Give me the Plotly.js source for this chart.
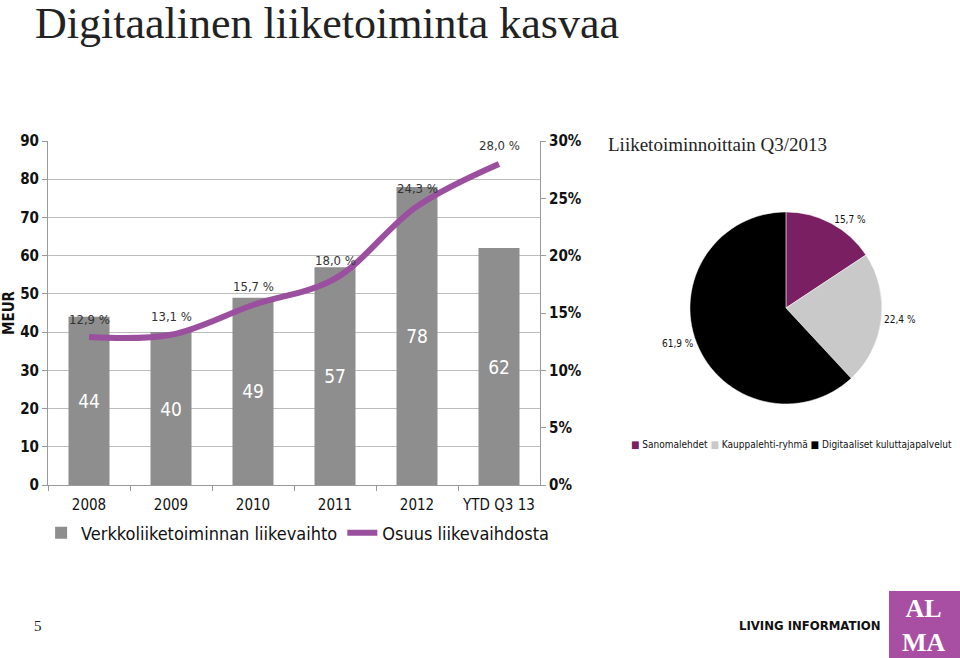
<!DOCTYPE html>
<html>
<head>
<meta charset="utf-8">
<script src="https://cdn.plot.ly/plotly-3.0.1.min.js"></script>
<style>
  html, body { margin: 0; padding: 0; background: #fff; }
  #chart { width: 960px; height: 658px; }
</style>
</head>
<body>
<div id="chart"></div>
<script>
const years = ["2008", "2009", "2010", "2011", "2012", "YTD Q3 13"];
const revenue = [44, 40, 49, 57, 78, 62];
const share = [12.9, 13.1, 15.7, 18.0, 24.3, 28.0];

const segments = ["Sanomalehdet", "Kauppalehti-ryhmä", "Digitaaliset kuluttajapalvelut"];
const segShare = [15.7, 22.4, 61.9];
const segColors = ["#7a1f61", "#c9c9c9", "#000000"];

const sans = "DejaVu Sans Condensed, DejaVu Sans, sans-serif";
const serif = "Liberation Serif, serif";

const bars = {
  x: years, y: revenue, type: "bar", name: "Verkkoliiketoiminnan liikevaihto",
  marker: { color: "#8e8e8e" }, width: 0.5,
  text: revenue.map(String), textposition: "inside", insidetextanchor: "middle",
  textfont: { color: "#fff", size: 19, family: sans },
};

const line = {
  x: years, y: share, yaxis: "y2", mode: "lines", name: "Osuus liikevaihdosta",
  line: { color: "#9b4f9f", width: 6, shape: "spline", smoothing: 1 },
};

const pie = {
  type: "pie", labels: segments, values: segShare, sort: false, direction: "clockwise",
  rotation: 0, showlegend: false,
  marker: { colors: segColors, line: { color: "#fff", width: 0.5 } },
  texttemplate: "%{value:.1f} %", textposition: "outside",
  textfont: { color: "#111", size: 10, family: sans },
  domain: { x: [0.7187, 0.9187], y: [0.386, 0.678] },
};

// share labels above the line points (category axis: x is the category index)
const shareLabels = share.map((v, i) => ({
  x: i, y: v, xref: "x", yref: "y2", yshift: 18, showarrow: false,
  text: v.toFixed(1).replace(".", ",") + " %",
  font: { family: sans, size: 13, color: "#333" },
}));

// pie legend as a single text row
const pieLegend = {
  xref: "paper", yref: "paper", x: 0.655, y: 0.325, xanchor: "left", yanchor: "middle",
  showarrow: false, font: { family: sans, size: 10, color: "#111" },
  text: segments.map((s, i) => `<span style="color:${segColors[i]}">■</span> ${s}`).join(" "),
};

const layout = {
  width: 960, height: 658,
  margin: { l: 0, r: 0, t: 0, b: 0 },
  paper_bgcolor: "#fff", plot_bgcolor: "#fff",
  separators: ", ",
  showlegend: true,
  font: { family: sans, color: "#222" },
  xaxis: {
    type: "category", range: [-0.5, 5.5], tickangle: 0, ticklabelstandoff: 6,
    domain: [0.05, 0.5625], showgrid: false, showline: true, linecolor: "#999",
    ticks: "outside", tickson: "boundaries", ticklen: 5, tickcolor: "#999",
    tickfont: { size: 15, color: "#111" },
  },
  yaxis: {
    domain: [0.2629, 0.7857], range: [0, 90], dtick: 10, showgrid: true, gridcolor: "#bdbdbd",
    showline: true, linecolor: "#999", ticks: "outside", ticklen: 5, tickcolor: "#999",
    tickfont: { size: 15, color: "#111", weight: "bold" }, zeroline: false,
    title: { text: "MEUR", font: { size: 15, weight: "bold", color: "#111" }, standoff: 6 },
  },
  yaxis2: {
    overlaying: "y", side: "right", range: [0, 30], dtick: 5, ticksuffix: "%",
    showgrid: false, showline: true, linecolor: "#999", ticks: "outside", ticklen: 5,
    tickcolor: "#999", tickfont: { size: 15, color: "#111", weight: "bold" }, zeroline: false,
  },
  legend: {
    orientation: "h", x: 0.31, xanchor: "center", y: 0.19, yanchor: "middle",
    bgcolor: "rgba(0,0,0,0)", font: { size: 18, color: "#111" }, itemwidth: 30,
  },
  annotations: [
    ...shareLabels,
    pieLegend,
    { text: "Digitaalinen liiketoiminta kasvaa", xref: "paper", yref: "paper", x: 0.034, y: 1,
      xanchor: "left", yanchor: "top", yshift: 3, showarrow: false,
      font: { family: serif, size: 44, color: "#222" } },
    { text: "Liiketoiminnoittain Q3/2013", xref: "paper", yref: "paper", x: 0.631, y: 0.781,
      xanchor: "left", yanchor: "middle", showarrow: false,
      font: { family: serif, size: 19, color: "#222" } },
    { text: "5", xref: "paper", yref: "paper", x: 0.033, y: 0.048,
      xanchor: "left", yanchor: "middle", showarrow: false,
      font: { family: serif, size: 15, color: "#222" } },
    { text: "LIVING INFORMATION", xref: "paper", yref: "paper", x: 0.919, y: 0.05,
      xanchor: "right", yanchor: "middle", showarrow: false,
      font: { family: sans, size: 13, color: "#111", weight: "bold" } },
    { text: "AL<br>MA", xref: "paper", yref: "paper", x: 0.963, y: 0.05,
      xanchor: "center", yanchor: "middle", showarrow: false,
      font: { family: serif, size: 26, color: "#fff", weight: "bold" } },
  ],
  shapes: [
    { type: "rect", xref: "paper", yref: "paper", x0: 0.926, x1: 1, y0: 0, y1: 0.102,
      fillcolor: "#a94fa3", line: { width: 0 } },
  ],
};

Plotly.newPlot("chart", [bars, line, pie], layout, { staticPlot: true });
</script>
</body>
</html>
